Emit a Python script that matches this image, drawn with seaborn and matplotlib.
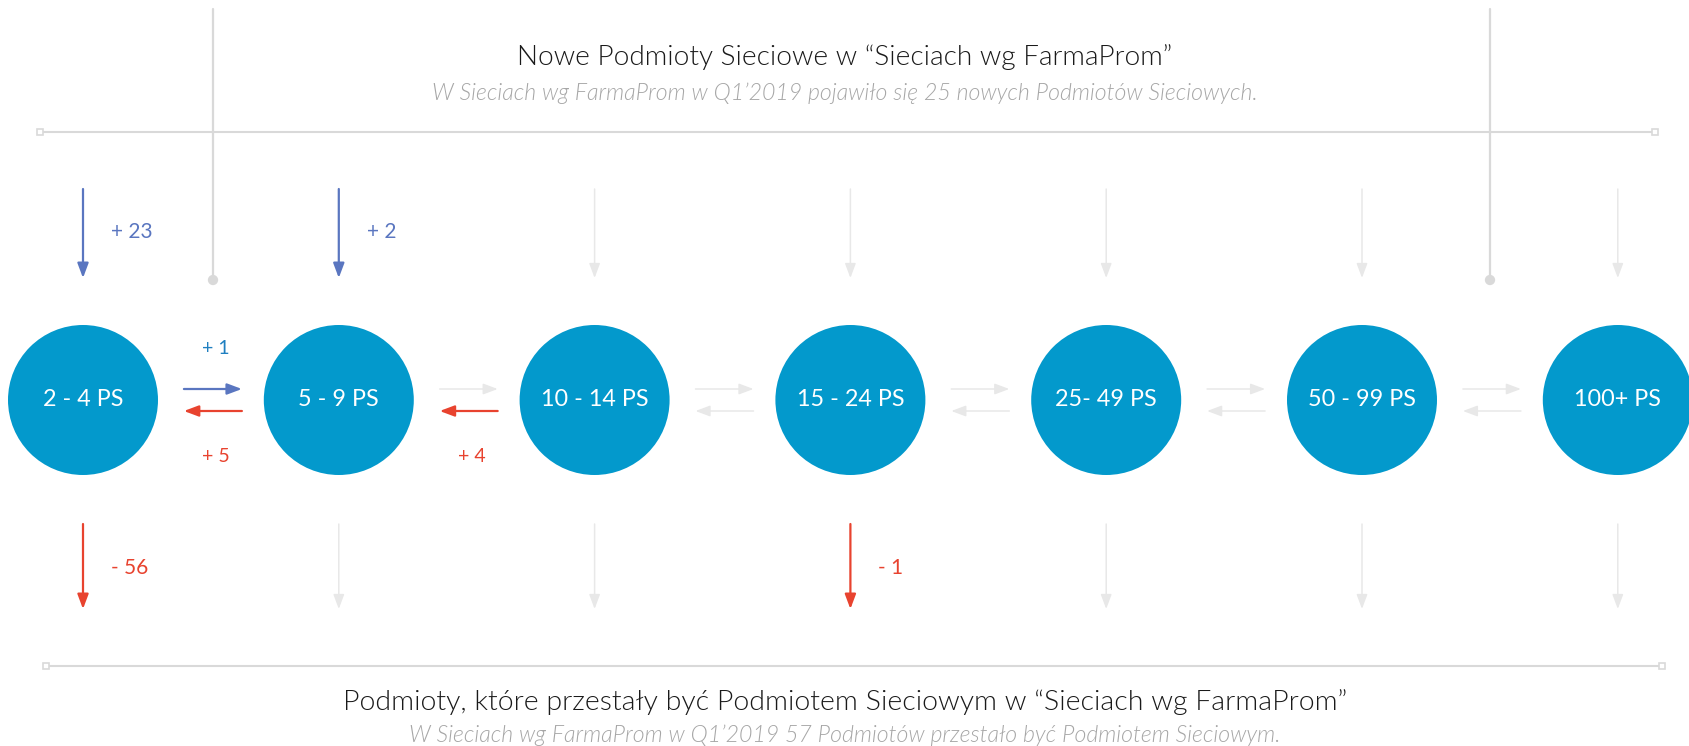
import numpy as np
import pandas as pd
import matplotlib
matplotlib.use("Agg")
import matplotlib.pyplot as plt
import seaborn as sns

# ── Data ─────────────────────────────────────────────────────
segments   = ["2 - 4 PS", "5 - 9 PS", "10 - 14 PS", "15 - 24 PS",
              "25- 49 PS", "50 - 99 PS", "100+ PS"]
new_ps     = [23, 2, 0, 0, 0, 0, 0]     # new network entities (from top)
lost_ps    = [56, 0, 0, 1, 0, 0, 0]     # entities that left (to bottom)
moved_up   = [1, 0, 0, 0, 0, 0]         # segment i   -> i+1
moved_down = [5, 4, 0, 0, 0, 0]         # segment i+1 -> i

title_top    = "Nowe Podmioty Sieciowe w “Sieciach wg FarmaProm”"
subtitle_top = "W Sieciach wg FarmaProm w Q1’2019 pojawiło się 25 nowych Podmiotów Sieciowych."
title_bot    = "Podmioty, które przestały być Podmiotem Sieciowym w “Sieciach wg FarmaProm”"
subtitle_bot = "W Sieciach wg FarmaProm w Q1’2019 57 Podmiotów przestało być Podmiotem Sieciowym."

# ── Style ────────────────────────────────────────────────────
CIRCLE     = "#0399cc"
BLUE       = "#5a76c0"
BLUE_TXT   = "#1f7fc0"
RED        = "#e8432f"
GRAY_ARROW = "#e8e8e8"
GRAY_LINE  = "#d9d9d9"

W, H   = 1690, 746       # canvas in px
X0     = 83              # px centre of first circle
STEP   = 255.8           # px between circle centres
CY     = 400             # circle centre (px)
R_PX   = 75              # circle radius (px)

sns.set_theme(style="white")
plt.rcParams["font.family"] = ["Lato", "DejaVu Sans"]


def u(px):
    """horizontal pixel offset -> data units"""
    return px / STEP


def arrow(ax, x0, y0, x1, y1, color, lw):
    ax.annotate(
        "", xy=(x1, y1), xytext=(x0, y0),
        arrowprops=dict(arrowstyle="-|>,head_length=0.8,head_width=0.3",
                        color=color, lw=lw, shrinkA=0, shrinkB=0,
                        mutation_scale=11),
    )


fig = plt.figure(figsize=(W / 100, H / 100), dpi=100)
ax = fig.add_axes([0, 0, 1, 1])
ax.set_xlim(-u(X0), u(W - X0))
ax.set_ylim(H, 0)
ax.axis("off")

pos = np.arange(len(segments))

# ── Circles ──────────────────────────────────────────────────
df = pd.DataFrame({"segment": segments, "pos": pos, "y": CY})
sns.scatterplot(data=df, x="pos", y="y", s=(2 * R_PX * 0.72) ** 2,
                color=CIRCLE, edgecolor="none", legend=False, ax=ax, zorder=3)
for p, name in zip(pos, segments):
    ax.text(p, CY, name, color="white", fontsize=16.8,
            ha="center", va="center", zorder=4)

# ── Separator lines with dots ────────────────────────────────
sep_x = [u(213 - X0), u(1490 - X0)]
for sx in sep_x:
    ax.plot([sx, sx], [9, 280], color=GRAY_LINE, lw=1.6, zorder=1)
sns.scatterplot(x=sep_x, y=[280, 280], s=55, color=GRAY_LINE,
                edgecolor="none", legend=False, ax=ax, zorder=2)

# ── Horizontal frame lines ───────────────────────────────────
for (xa, xb, yy) in [(40, 1655, 132), (46, 1662, 666)]:
    ax.plot([u(xa - X0), u(xb - X0)], [yy, yy], color=GRAY_LINE, lw=1.5, zorder=1)
    ax.plot([u(xa - X0), u(xb - X0)], [yy, yy], ls="none", marker="s",
            markersize=5, mfc="white", mec=GRAY_LINE, mew=1.2, zorder=2)

# ── Titles ───────────────────────────────────────────────────
xc = u(W / 2 - X0)
ax.text(xc, 57, title_top, fontsize=20.2, fontweight=300, color="#1a1a1a",
        ha="center", va="center")
ax.text(xc, 93, subtitle_top, fontsize=16.7, fontweight=300, style="italic",
        color="#a6a6a6", ha="center", va="center")
ax.text(xc, 702, title_bot, fontsize=20.5, fontweight=300, color="#1a1a1a",
        ha="center", va="center")
ax.text(xc, 735, subtitle_bot, fontsize=16.7, fontweight=300, style="italic",
        color="#a6a6a6", ha="center", va="center")

# ── Inflow (top) and outflow (bottom) arrows ─────────────────
for p, v_in, v_out in zip(pos, new_ps, lost_ps):
    c_in = BLUE if v_in else GRAY_ARROW
    arrow(ax, p, 189, p, 278, c_in, 1.6 if v_in else 1.1)
    if v_in:
        ax.text(p + u(28), 232, f"+ {v_in}", color=BLUE, fontsize=15,
                ha="left", va="center")
    c_out = RED if v_out else GRAY_ARROW
    arrow(ax, p, 524, p, 609, c_out, 1.6 if v_out else 1.1)
    if v_out:
        ax.text(p + u(28), 568, f"- {v_out}", color=RED, fontsize=15,
                ha="left", va="center")

# ── Moves between segments ───────────────────────────────────
for i, (up, down) in enumerate(zip(moved_up, moved_down)):
    mid = pos[i] + 0.5 + u(2)
    c_up = BLUE if up else GRAY_ARROW
    arrow(ax, mid - u(29), 389, mid + u(29), 389, c_up, 1.6 if up else 1.1)
    if up:
        ax.text(mid + u(3), 349, f"+ {up}", color=BLUE_TXT, fontsize=14,
                ha="center", va="center")
    c_dn = RED if down else GRAY_ARROW
    arrow(ax, mid + u(29), 411, mid - u(29), 411, c_dn, 1.6 if down else 1.1)
    if down:
        ax.text(mid + u(3), 457, f"+ {down}", color=RED, fontsize=14,
                ha="center", va="center")

plt.savefig("out.png", dpi=100)
plt.close()
